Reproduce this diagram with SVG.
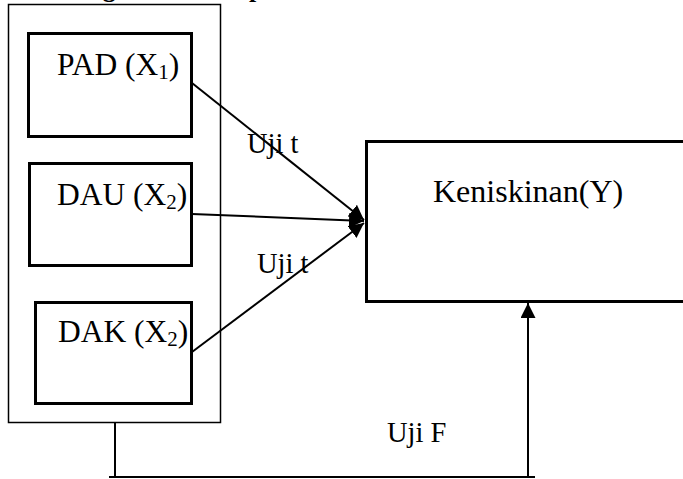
<svg xmlns="http://www.w3.org/2000/svg" width="683" height="479" viewBox="0 0 683 479">
<style>
.t{font-family:"Liberation Serif","Times New Roman",serif;fill:#000}
.lbl{font-size:31.5px}
.edge{font-size:28.5px}
.box{fill:#fff;stroke:#000;stroke-width:3}
.ln{stroke:#000;stroke-width:2;fill:none}
</style>
<defs>
<marker id="ah" markerUnits="userSpaceOnUse" markerWidth="16" markerHeight="15" refX="15" refY="7.5" orient="auto">
<path d="M0,0 L15,7.5 L0,15 z" fill="#000"/>
</marker>
</defs>
<rect width="683" height="479" fill="#fff"/>
<text class="t" x="32" y="-3" font-size="26" font-weight="bold" word-spacing="30">Kerangka Konsep</text>
<g id="group-x">
<rect x="8.5" y="4.5" width="212" height="418" fill="none" stroke="#000" stroke-width="1.5"/>
</g>
<g id="node-pad">
<rect class="box" x="28.5" y="33.5" width="163" height="103"/>
<text class="t lbl" x="57" y="75">PAD (X<tspan font-size="21" dy="4">1</tspan><tspan dy="-4">)</tspan></text>
</g>
<g id="node-dau">
<rect class="box" x="29.5" y="163.5" width="162" height="102"/>
<text class="t lbl" x="57" y="205">DAU (X<tspan font-size="21" dy="4">2</tspan><tspan dy="-4">)</tspan></text>
</g>
<g id="node-dak">
<rect class="box" x="35.5" y="302.5" width="156" height="101"/>
<text class="t lbl" x="58" y="342">DAK (X<tspan font-size="21" dy="4">2</tspan><tspan dy="-4">)</tspan></text>
</g>
<g id="node-y">
<rect class="box" x="366.5" y="141.5" width="330" height="160"/>
<text class="t" x="433" y="202" font-size="32">Keniskinan(Y)</text>
</g>
<g id="connectors">
<line class="ln" x1="192" y1="83" x2="364" y2="220" marker-end="url(#ah)"/>
<line class="ln" x1="192" y1="214" x2="364" y2="221" marker-end="url(#ah)"/>
<line class="ln" x1="192" y1="352" x2="364" y2="223" marker-end="url(#ah)"/>
<polyline class="ln" points="115,423 115,477"/>
<line class="ln" x1="109" y1="477" x2="535" y2="477"/>
<line class="ln" x1="528" y1="477" x2="528" y2="303" marker-end="url(#ah)"/>
<text class="t edge" x="247" y="153">Uji t</text>
<text class="t edge" x="257" y="273">Uji t</text>
<text class="t edge" x="387" y="442">Uji F</text>
</g>
</svg>
